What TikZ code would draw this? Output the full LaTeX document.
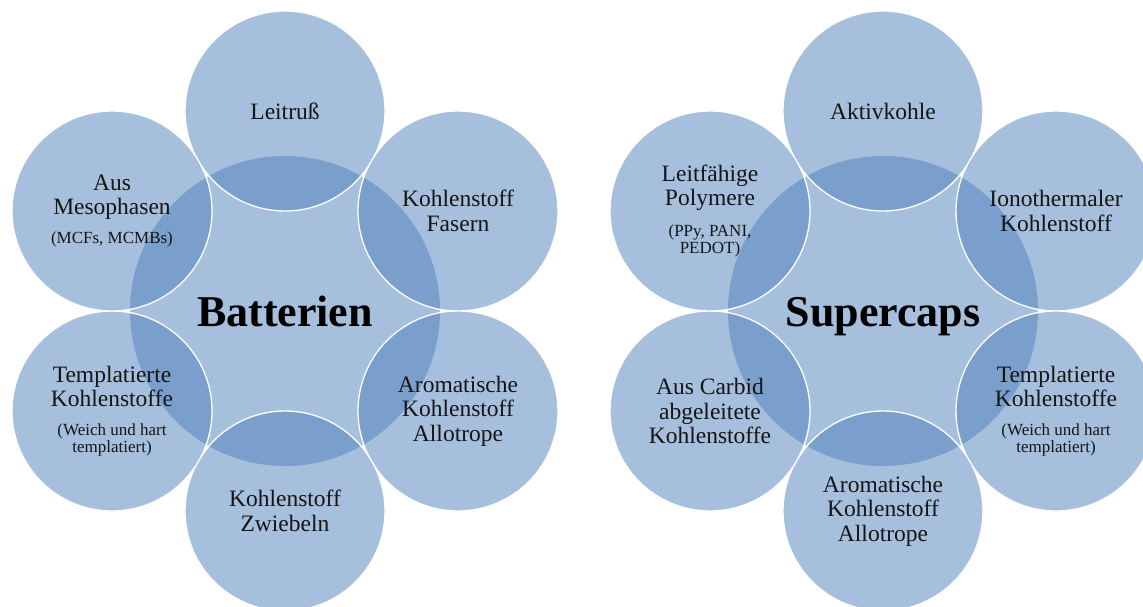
\documentclass[tikz,border=0pt]{standalone}
\usepackage{fontspec}
\setmainfont{Liberation Serif}
\definecolor{accent}{HTML}{4F81BD}
\definecolor{txt}{HTML}{151515}
\newcommand{\smtxt}{\fontsize{17}{18}\selectfont}
\begin{document}
\begin{tikzpicture}[x=1pt,y=-1pt,
  hub/.style={circle, fill=accent, fill opacity=0.5, text opacity=1, minimum size=310pt,
    inner sep=0pt, text height=30pt, text depth=0pt,
    font=\fontsize{44}{48}\selectfont\bfseries, text=black},
  sat/.style={circle, fill=accent, fill opacity=0.5, draw=white, draw opacity=1,
    line width=1.3pt, text opacity=1, minimum size=200pt, inner sep=0pt, align=center,
    font=\fontsize{23.5}{24.5}\selectfont, text=txt}]
\useasboundingbox (0,0) rectangle (1143,607);
\clip (0,0) rectangle (1143,607);
\fill[white] (0,0) rectangle (1143,607);

% ---- Batterien ----
\node[hub] (bat) at (285,311) {Batterien};
\node[sat] (b1) at (285,111) {Leitruß};
\node[sat] (b2) at (458,211) {Kohlenstoff\\Fasern};
\node[sat] (b3) at (458,411) {Aromatische\\Kohlenstoff\\Allotrope};
\node[sat] (b4) at (285,511) {Kohlenstoff\\Zwiebeln};
\node[sat] (b5) at (112,411) {Templatierte\\Kohlenstoffe\\[4pt]{\smtxt (Weich und hart}\\[-7pt]{\smtxt templatiert)}};
\node[sat] (b6) at (112,211) {Aus\\Mesophasen\\[4pt]{\smtxt (MCFs, MCMBs)}};

% ---- Supercaps ----
\node[hub] (sup) at (883,311) {Supercaps};
\node[sat] (s1) at (883,111) {Aktivkohle};
\node[sat] (s2) at (1056,211) {Ionothermaler\\Kohlenstoff};
\node[sat] (s3) at (1056,411) {Templatierte\\Kohlenstoffe\\[4pt]{\smtxt (Weich und hart}\\[-7pt]{\smtxt templatiert)}};
\node[sat] (s4) at (883,511) {Aromatische\\Kohlenstoff\\Allotrope};
\node[sat] (s5) at (710,411) {Aus Carbid\\abgeleitete\\Kohlenstoffe};
\node[sat] (s6) at (710,211) {Leitfähige\\Polymere\\[6pt]{\smtxt (PPy, PANI,}\\[-7pt]{\smtxt PEDOT)}};
\end{tikzpicture}
\end{document}
